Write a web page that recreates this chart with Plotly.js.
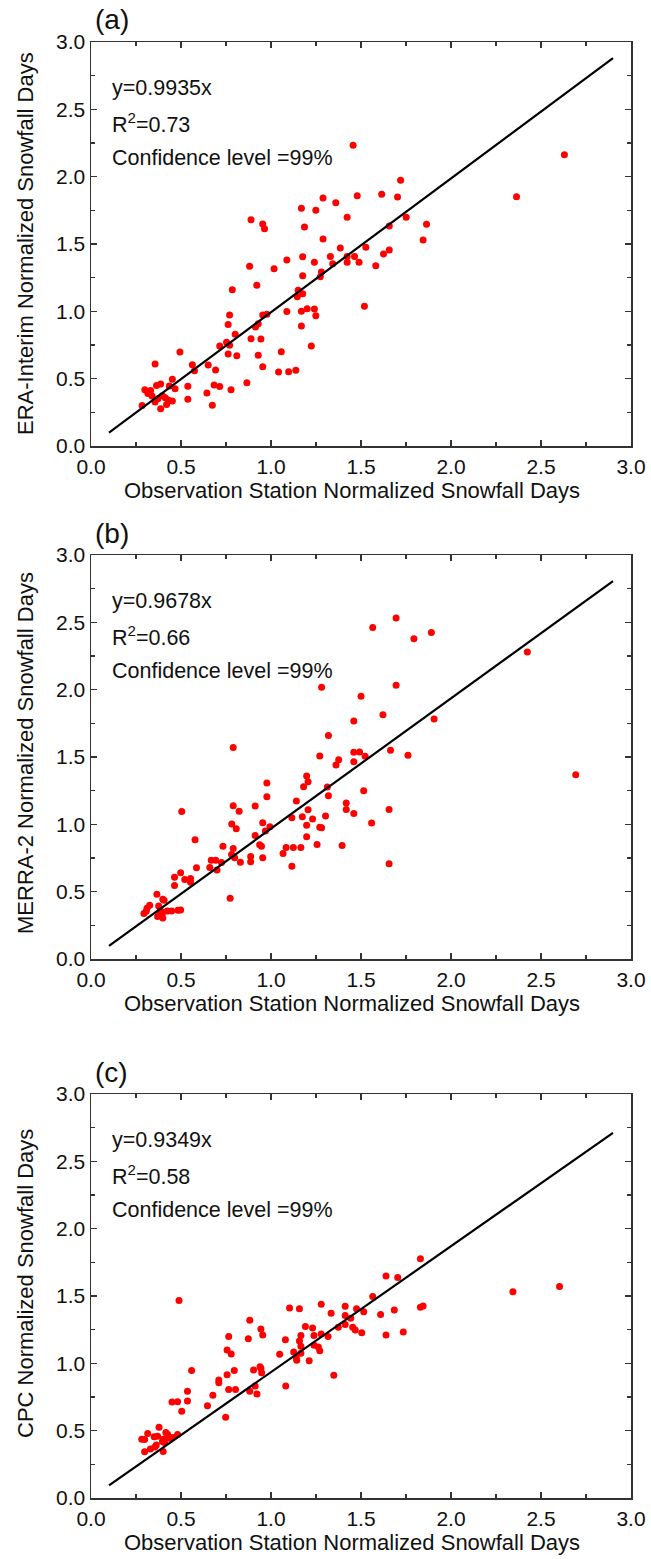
<!DOCTYPE html>
<html>
<head>
<meta charset="utf-8">
<script src="https://cdn.plot.ly/plotly-3.0.1.min.js"></script>
<style>
html,body{margin:0;padding:0;background:#fff;}
#chart{width:651px;height:1559px;}
</style>
</head>
<body>
<div id="chart"></div>
<script>
// ---------- Data ----------
const panelLabels = ["(a)", "(b)", "(c)"];
const yTitles = ["ERA-Interim Normalized Snowfall Days", "MERRA-2 Normalized Snowfall Days", "CPC Normalized Snowfall Days"];
const xTitle = "Observation Station Normalized Snowfall Days";
const slopes = [0.9935, 0.9678, 0.9349];
const eqTexts = ["y=0.9935x", "y=0.9678x", "y=0.9349x"];
const r2Texts = ["R<sup>2</sup>=0.73", "R<sup>2</sup>=0.66", "R<sup>2</sup>=0.58"];
const confText = "Confidence level =99%";
const fitX = [0.1, 2.9];
const tickVals = [0, 0.5, 1.0, 1.5, 2.0, 2.5, 3.0];
const tickText = ["0.0", "0.5", "1.0", "1.5", "2.0", "2.5", "3.0"];

// (a) ERA-Interim
const xa = [1.456,2.630,1.720,2.364,1.289,1.479,1.615,1.703,1.360,1.169,1.249,1.423,1.751,1.864,0.889,0.954,0.964,1.186,1.657,1.845,
1.289,1.385,1.527,1.625,1.657,1.330,1.423,1.464,1.176,1.088,1.241,1.343,1.423,1.489,1.582,1.017,0.881,1.280,1.274,1.176,
0.921,0.785,1.151,1.176,1.146,1.519,1.201,1.241,1.088,1.169,1.249,0.770,0.954,0.977,0.762,1.169,0.929,0.914,0.801,0.889,
0.944,0.753,0.715,0.770,1.224,0.494,1.057,0.762,0.810,0.929,0.356,0.563,0.651,0.575,0.692,0.954,1.042,1.098,1.138,0.452,
0.866,0.387,0.364,0.435,0.467,0.538,0.684,0.715,0.778,0.299,0.331,0.316,0.339,0.397,0.412,0.372,0.644,0.538,0.429,0.452,
0.356,0.420,0.284,0.674,0.387];
const ya = [2.233,2.163,1.973,1.851,1.842,1.859,1.869,1.849,1.807,1.765,1.750,1.698,1.698,1.646,1.681,1.649,1.614,1.626,1.634,1.530,
1.537,1.470,1.475,1.426,1.455,1.408,1.408,1.408,1.406,1.381,1.364,1.354,1.364,1.364,1.339,1.317,1.334,1.292,1.257,1.265,
1.193,1.161,1.156,1.131,1.109,1.037,1.020,1.017,0.998,1.000,0.968,0.973,0.973,0.978,0.903,0.891,0.908,0.884,0.829,0.797,
0.795,0.770,0.743,0.748,0.743,0.698,0.700,0.683,0.671,0.673,0.609,0.604,0.601,0.559,0.564,0.589,0.550,0.552,0.562,0.495,
0.470,0.460,0.450,0.446,0.426,0.443,0.453,0.441,0.418,0.418,0.413,0.389,0.371,0.374,0.359,0.351,0.394,0.347,0.342,0.334,
0.327,0.309,0.300,0.302,0.277];

// (b) MERRA-2
const xb = [1.695,1.565,1.891,1.794,2.424,1.281,1.695,1.500,1.622,1.460,1.906,1.319,0.790,1.460,1.492,1.664,1.271,1.523,1.761,1.376,
1.361,1.460,2.693,1.198,1.206,0.977,1.181,1.313,1.515,0.977,1.319,1.141,1.418,0.790,0.912,0.823,0.504,1.206,1.418,1.460,
1.656,1.303,1.116,1.174,1.231,1.198,0.954,0.782,0.807,1.271,1.281,1.559,0.994,0.969,0.912,1.198,0.578,0.937,0.947,0.733,
1.256,1.084,1.124,1.166,1.395,0.790,0.781,0.798,1.067,0.887,0.954,0.668,0.693,0.725,0.830,0.887,0.660,0.700,0.586,1.116,
0.498,0.464,0.521,0.553,0.553,0.464,1.656,0.773,0.366,0.399,0.406,0.326,0.311,0.294,0.307,0.376,0.385,0.399,0.424,0.448,
0.483,0.498,0.370,0.399,0.384];
const yb = [2.532,2.462,2.425,2.378,2.279,2.018,2.033,1.951,1.813,1.768,1.783,1.659,1.570,1.535,1.537,1.550,1.508,1.505,1.513,1.480,
1.441,1.465,1.369,1.359,1.317,1.307,1.279,1.277,1.250,1.205,1.213,1.173,1.158,1.138,1.136,1.098,1.096,1.108,1.111,1.081,
1.111,1.061,1.049,1.056,1.039,0.994,1.012,1.002,0.967,0.979,0.974,1.009,0.982,0.950,0.917,0.908,0.885,0.848,0.838,0.838,
0.850,0.828,0.828,0.828,0.843,0.821,0.776,0.751,0.784,0.761,0.751,0.734,0.734,0.717,0.719,0.722,0.679,0.660,0.677,0.689,
0.640,0.607,0.590,0.598,0.570,0.546,0.707,0.451,0.481,0.444,0.436,0.399,0.377,0.337,0.355,0.394,0.362,0.345,0.357,0.357,
0.362,0.364,0.315,0.305,0.337];

// (c) CPC
const xc = [2.603,2.344,1.830,1.639,1.704,1.565,0.489,1.279,1.103,1.158,1.412,1.475,1.515,1.685,1.830,1.845,1.334,1.609,1.412,1.443,
0.882,1.412,1.191,1.231,1.374,1.454,1.468,0.944,0.954,0.765,0.874,1.504,1.639,1.735,1.166,1.239,1.279,1.317,1.080,1.158,
1.166,1.239,1.263,1.271,0.756,0.779,1.048,1.126,1.166,1.141,1.143,1.212,0.939,0.944,0.903,0.948,0.559,0.796,0.756,1.349,
0.710,0.710,1.082,0.912,0.765,0.803,0.882,0.922,0.536,0.677,0.450,0.481,0.536,0.647,0.504,0.748,0.378,0.315,0.282,0.298,
0.351,0.370,0.416,0.426,0.401,0.435,0.454,0.481,0.397,0.363,0.330,0.298,0.401,0.355,0.408];
const yc = [1.571,1.531,1.777,1.649,1.637,1.496,1.466,1.438,1.410,1.406,1.423,1.406,1.383,1.396,1.416,1.426,1.371,1.363,1.356,1.335,
1.320,1.288,1.273,1.263,1.268,1.268,1.248,1.255,1.210,1.200,1.182,1.227,1.210,1.232,1.207,1.207,1.218,1.200,1.175,1.165,
1.127,1.135,1.122,1.094,1.099,1.069,1.067,1.084,1.074,1.039,1.022,1.019,0.974,0.964,0.951,0.931,0.946,0.946,0.916,0.911,
0.876,0.856,0.831,0.831,0.806,0.806,0.793,0.773,0.793,0.763,0.713,0.715,0.720,0.685,0.645,0.600,0.525,0.479,0.437,0.434,
0.454,0.459,0.487,0.472,0.437,0.444,0.449,0.472,0.419,0.394,0.364,0.344,0.346,0.379,0.412];

const xsets = [xa, xb, xc];
const ysets = [ya, yb, yc];

// ---------- Layout geometry (pixels) ----------
const W = 651, H = 1559;
const plotLeft = 91, plotRight = 631;
const panelTops = [42, 555, 1094];
const panelH = 404;
const yTitleCenters = [244, 753, 1284];
const FONT = "Liberation Sans, Arial, sans-serif";

const traces = [];
const layout = {
  width: W, height: H,
  margin: {l: 0, r: 0, t: 0, b: 0},
  paper_bgcolor: "#fff", plot_bgcolor: "#fff",
  showlegend: false,
  font: {family: FONT, color: "#111", size: 21},
  annotations: []
};

for (let i = 0; i < 3; i++) {
  const sfx = i === 0 ? "" : String(i + 1);
  const xref = "x" + sfx, yref = "y" + sfx;
  traces.push({
    type: "scatter", mode: "markers",
    x: xsets[i], y: ysets[i], xaxis: xref, yaxis: yref,
    marker: {color: "#ff0000", size: 7, line: {width: 0}},
    hoverinfo: "skip"
  });
  traces.push({
    type: "scatter", mode: "lines",
    x: fitX, y: fitX.map(v => slopes[i] * v), xaxis: xref, yaxis: yref,
    line: {color: "#000", width: 2.2},
    hoverinfo: "skip"
  });
  const top = panelTops[i], bot = top + panelH;
  const axCommon = {
    range: [0, 3], tickmode: "array", tickvals: tickVals, ticktext: tickText,
    ticks: "inside", ticklen: 6, tickwidth: 1.2, tickcolor: "#333",
    minor: {ticks: "inside", ticklen: 4, tickwidth: 1.2, tickcolor: "#333", dtick: 0.25, tick0: 0, showgrid: false},
    showline: true, linecolor: "#333", linewidth: 1.5, mirror: "ticks",
    showgrid: false, zeroline: false,
    tickfont: {family: FONT, size: 21, color: "#111"}
  };
  layout["xaxis" + sfx] = Object.assign({}, axCommon, {
    domain: [plotLeft / W, plotRight / W], anchor: yref,
    ticklabelstandoff: 1
  });
  layout["yaxis" + sfx] = Object.assign({}, axCommon, {
    domain: [1 - bot / H, 1 - top / H], anchor: xref
  });
  // x-axis title
  layout.annotations.push({
    xref: "paper", yref: "paper", x: 352 / W, y: 1 - (top + 448) / H,
    xanchor: "center", yanchor: "middle", showarrow: false,
    text: xTitle, font: {family: FONT, size: 22, color: "#111"}
  });
  // y-axis title
  layout.annotations.push({
    xref: "paper", yref: "paper", x: 25 / W, y: 1 - yTitleCenters[i] / H,
    xanchor: "center", yanchor: "middle", showarrow: false, textangle: -90,
    text: yTitles[i], font: {family: FONT, size: 22, color: "#111"}
  });
  // panel label
  layout.annotations.push({
    xref: "paper", yref: "paper", x: 93 / W, y: 1 - (top - 22) / H,
    xanchor: "left", yanchor: "middle", showarrow: false,
    text: panelLabels[i], font: {family: FONT, size: 28, color: "#111"}
  });
  // equation texts
  const lines = [eqTexts[i], r2Texts[i], confText];
  for (let k = 0; k < 3; k++) {
    layout.annotations.push({
      xref: "paper", yref: "paper", x: 110 / W, y: 1 - (top + 46 + k * 35) / H,
      xanchor: "left", yanchor: "middle", showarrow: false,
      text: lines[k], font: {family: FONT, size: 21.5, color: "#111"}
    });
  }
}

Plotly.newPlot("chart", traces, layout, {staticPlot: true, displayModeBar: false});
</script>
</body>
</html>
